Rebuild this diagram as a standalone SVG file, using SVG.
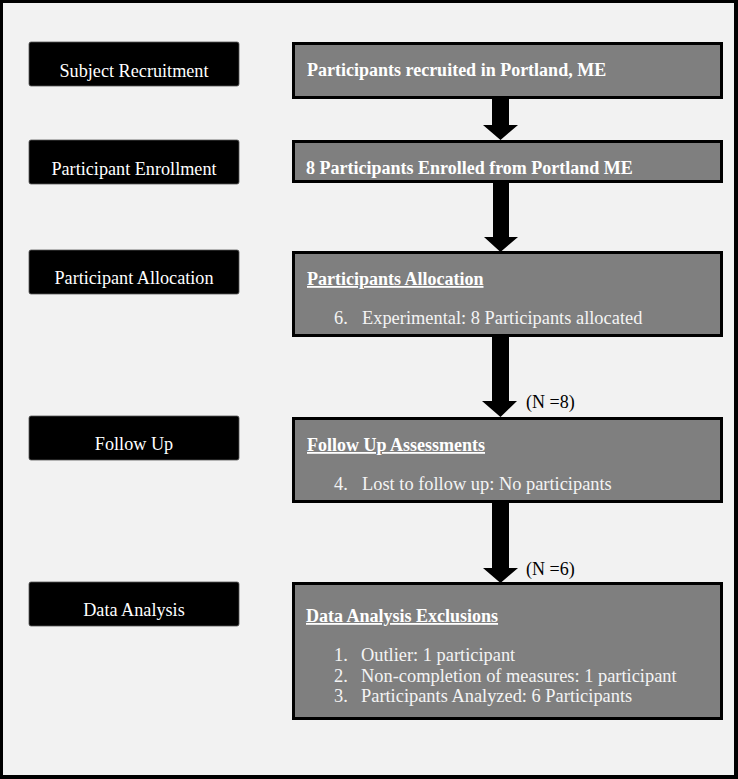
<svg xmlns="http://www.w3.org/2000/svg" width="738" height="779" viewBox="0 0 738 779">
<style>
.lbl{fill:#000;stroke:#555;stroke-width:0.8}
.lt{font-family:"Liberation Serif","Times New Roman",serif;font-size:18.2px;fill:#fff;text-anchor:middle}
.box{fill:#7f7f7f;stroke:#000;stroke-width:3}
.bt{font-family:"Liberation Serif","Times New Roman",serif;font-size:18px;font-weight:bold;fill:#fff}
.u{text-decoration:underline}
.rt{font-family:"Liberation Serif","Times New Roman",serif;font-size:18.4px;fill:#f4f4f4}
.nt{font-family:"Liberation Serif","Times New Roman",serif;font-size:18px;fill:#000}
.arr{fill:#000}
</style>
<rect x="0" y="0" width="738" height="779" fill="#000"/>
<rect x="3" y="3" width="731" height="772" fill="#f2f2f2"/>

<g id="stage-recruitment">
<rect class="lbl" x="29" y="42" width="210" height="44" rx="2"/>
<text class="lt" x="134" y="77">Subject Recruitment</text>
</g>
<g id="stage-enrollment">
<rect class="lbl" x="29" y="140" width="210" height="44" rx="2"/>
<text class="lt" x="134" y="175">Participant Enrollment</text>
</g>
<g id="stage-allocation">
<rect class="lbl" x="29" y="250" width="210" height="44" rx="2"/>
<text class="lt" x="134" y="284">Participant Allocation</text>
</g>
<g id="stage-followup">
<rect class="lbl" x="29" y="416" width="210" height="44" rx="2"/>
<text class="lt" x="134" y="450">Follow Up</text>
</g>
<g id="stage-analysis">
<rect class="lbl" x="29" y="582" width="210" height="44" rx="2"/>
<text class="lt" x="134" y="616">Data Analysis</text>
</g>

<g id="box-recruited">
<rect class="box" x="293.5" y="43.5" width="428" height="54"/>
<text class="bt" x="307" y="76">Participants recruited in Portland, ME</text>
</g>
<g id="box-enrolled">
<rect class="box" x="293.5" y="141.5" width="428" height="40"/>
<text class="bt" x="306" y="174">8 Participants Enrolled from Portland ME</text>
</g>
<g id="box-allocation">
<rect class="box" x="293.5" y="252.5" width="428" height="83"/>
<text class="bt u" x="307" y="285">Participants Allocation</text>
<text class="rt" x="334" y="324">6.</text>
<text class="rt" x="362" y="324">Experimental: 8 Participants allocated</text>
</g>
<g id="box-followup">
<rect class="box" x="293.5" y="418.5" width="428" height="83"/>
<text class="bt u" x="307" y="451">Follow Up Assessments</text>
<text class="rt" x="334" y="490">4.</text>
<text class="rt" x="362" y="490">Lost to follow up: No participants</text>
</g>
<g id="box-analysis">
<rect class="box" x="293.5" y="583.5" width="428" height="135"/>
<text class="bt u" x="306" y="622">Data Analysis Exclusions</text>
<text class="rt" x="334" y="661">1.</text>
<text class="rt" x="361" y="661">Outlier: 1 participant</text>
<text class="rt" x="334" y="682">2.</text>
<text class="rt" x="361" y="682">Non-completion of measures: 1 participant</text>
<text class="rt" x="334" y="702">3.</text>
<text class="rt" x="361" y="702">Participants Analyzed: 6 Participants</text>
</g>

<g id="connectors">
<polygon class="arr" points="492,99 509,99 509,125 518,125 500.5,140 483,125 492,125"/>
<polygon class="arr" points="493,183 509,183 509,237 518,237 500.5,252 484,237 493,237"/>
<polygon class="arr" points="492,337 509,337 509,401 517,401 500.5,417 482,401 492,401"/>
<polygon class="arr" points="492,503 509,503 509,568 518,568 500.5,583 483,568 492,568"/>
<text class="nt" x="526" y="408">(N =8)</text>
<text class="nt" x="526" y="575">(N =6)</text>
</g>
</svg>
